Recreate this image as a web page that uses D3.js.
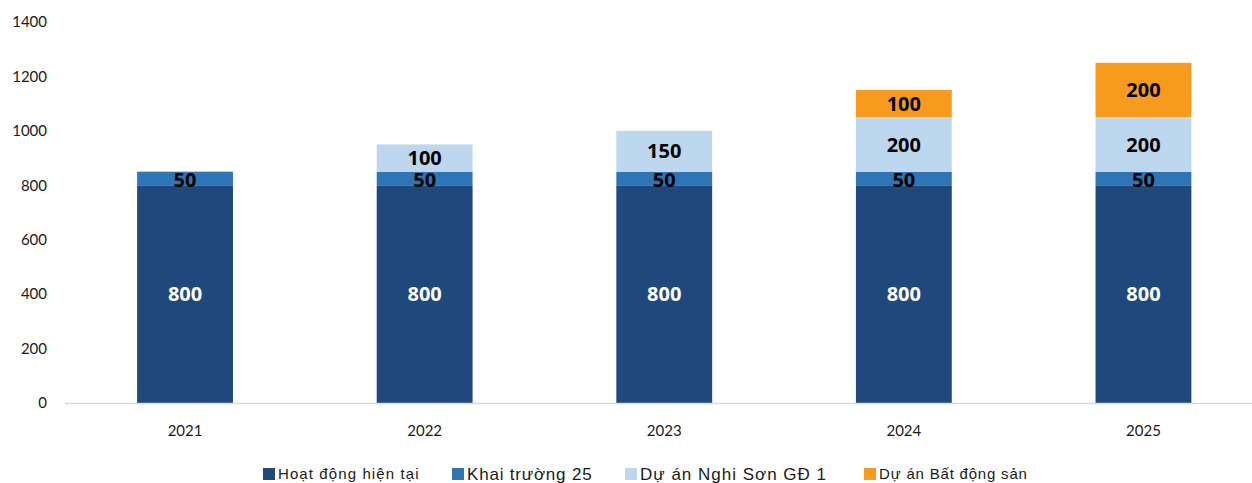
<!DOCTYPE html>
<html>
<head>
<meta charset="utf-8">
<script src="https://cdn.jsdelivr.net/npm/d3@7"></script>
<style>
  body { margin: 0; background: #fff; }
  svg { display: block; }
</style>
</head>
<body>
<div class="chart"></div>
<script>
// Data
const years = ["2021", "2022", "2023", "2024", "2025"];
const seriesNames = ["Hoạt động hiện tại", "Khai trường 25", "Dự án Nghi Sơn GĐ 1", "Dự án Bất động sản"];
const hoatDong = [800, 800, 800, 800, 800];
const khaiTruong = [50, 50, 50, 50, 50];
const nghiSon = [0, 100, 150, 200, 200];
const batDongSan = [0, 0, 0, 100, 200];
const yTicks = [0, 200, 400, 600, 800, 1000, 1200, 1400];

const seriesValues = [hoatDong, khaiTruong, nghiSon, batDongSan];
const colors = ["#1f497d", "#2e75b6", "#bdd7ee", "#f79b1e"];
const labelColors = ["#fff", "#000", "#000", "#000"];

const W = 1252, H = 483;

const x = d3.scaleBand().domain(years).range([65.25, 1263.25]).paddingInner(0.6).paddingOuter(0.3);
const y = d3.scaleLinear().domain([0, 1400]).range([403, 22]);

const svg = d3.select(".chart").append("svg")
    .attr("width", W)
    .attr("height", H);

// rows for stacking
const rows = years.map((yr, i) => {
    const r = { year: yr };
    seriesNames.forEach((s, k) => r[s] = seriesValues[k][i]);
    return r;
});
const stacked = d3.stack().keys(seriesNames)(rows);

// y axis labels (no line)
svg.append("g")
    .selectAll("text")
    .data(yTicks)
    .enter().append("text")
    .attr("x", 47)
    .attr("y", d => y(d))
    .attr("dy", "0.35em")
    .attr("text-anchor", "end")
    .style("font-family", "Lato, 'Open Sans', sans-serif")
    .style("font-size", "15px")
    .style("fill", "#1a1a1a")
    .text(d => d);

// bars
const layer = svg.selectAll(".layer")
    .data(stacked)
    .enter().append("g")
    .attr("class", "layer")
    .style("fill", (d, i) => colors[i]);

layer.selectAll("rect")
    .data(d => d.filter(p => p[1] - p[0] > 0))
    .enter().append("rect")
    .attr("x", d => x(d.data.year))
    .attr("width", x.bandwidth())
    .attr("y", d => y(d[1]))
    .attr("height", d => y(d[0]) - y(d[1]));

// value labels
stacked.forEach((s, k) => {
    svg.append("g")
        .selectAll("text")
        .data(s.filter(p => p[1] - p[0] > 0))
        .enter().append("text")
        .attr("x", d => x(d.data.year) + x.bandwidth() / 2)
        .attr("y", d => (y(d[0]) + y(d[1])) / 2 + (k === 1 ? 1 : 0))
        .attr("dy", "0.36em")
        .attr("text-anchor", "middle")
        .style("font-family", "'Open Sans', Lato, sans-serif")
        .style("font-weight", "bold")
        .style("font-size", "20px")
        .style("fill", labelColors[k])
        .text(d => d[1] - d[0]);
});

// x axis line
svg.append("line")
    .attr("x1", 65).attr("x2", W)
    .attr("y1", y(0) + 0.5).attr("y2", y(0) + 0.5)
    .style("stroke", "#d9d9d9")
    .style("stroke-width", 1.5);

// x labels
svg.append("g")
    .selectAll("text")
    .data(years)
    .enter().append("text")
    .attr("x", d => x(d) + x.bandwidth() / 2)
    .attr("y", 431)
    .attr("dy", "0.35em")
    .attr("text-anchor", "middle")
    .style("font-family", "Lato, 'Open Sans', sans-serif")
    .style("font-size", "15px")
    .style("fill", "#1a1a1a")
    .text(d => d);

// legend
const legendX = [263, 452, 625, 864];
const legendSize = ["15px", "17px", "17px", "15px"];
const legendSpacing = ["1.1px", "0.8px", "1px", "0.8px"];
const legend = svg.selectAll(".legend")
    .data(seriesNames)
    .enter().append("g")
    .attr("class", "legend")
    .attr("transform", (d, i) => "translate(" + legendX[i] + ",474)");

legend.append("rect")
    .attr("x", 0)
    .attr("y", -6)
    .attr("width", 12)
    .attr("height", 12)
    .style("fill", (d, i) => colors[i]);

legend.append("text")
    .attr("x", 15)
    .attr("y", 0)
    .attr("dy", "0.35em")
    .style("font-family", "'Liberation Sans', Arial, sans-serif")
    .style("font-size", (d, i) => legendSize[i])
    .style("letter-spacing", (d, i) => legendSpacing[i])
    .style("fill", "#1a1a1a")
    .text(d => d);
</script>
</body>
</html>
